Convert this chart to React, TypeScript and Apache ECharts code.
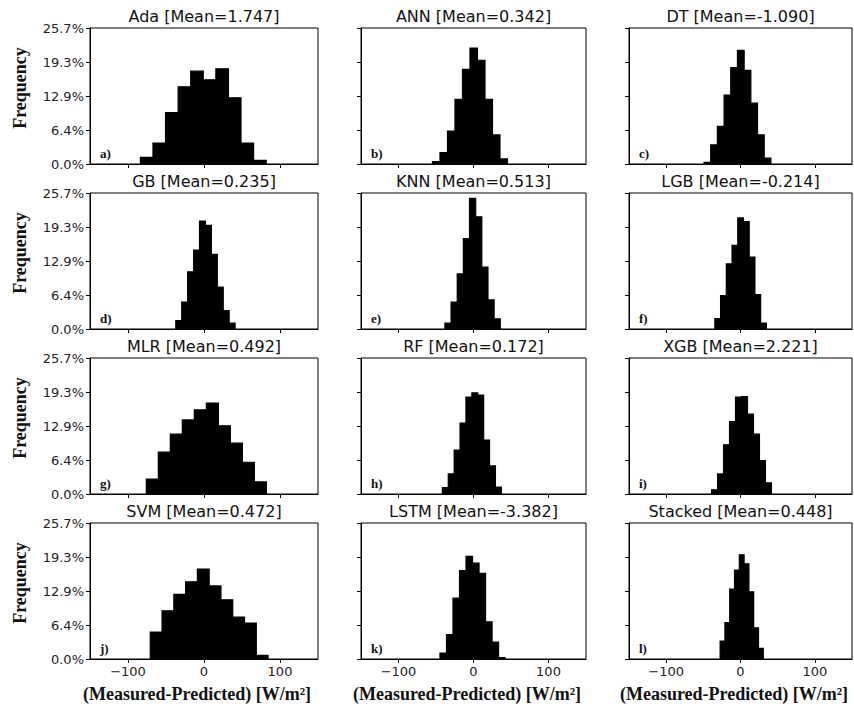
import React, { useEffect, useRef } from "react";
import * as echarts from "echarts";

// ---- data ----
const modelNames = ["Ada", "ANN", "DT", "GB", "KNN", "LGB", "MLR", "RF", "XGB", "SVM", "LSTM", "Stacked"];
const meanLabels = ["1.747", "0.342", "-1.090", "0.235", "0.513", "-0.214", "0.492", "0.172", "2.221", "0.472", "-3.382", "0.448"];
const panelLetters = ["a)", "b)", "c)", "d)", "e)", "f)", "g)", "h)", "i)", "j)", "k)", "l)"];

// first bin left edge and bin width (W/m²) per model
const binStarts = [-83.7, -54.7, -49.1, -37.1, -38.1, -34.5, -75.9, -41.5, -38.9, -70.7, -44.7, -27.4];
const binWidths = [16.55, 10.0, 9.0, 7.8, 8.2, 7.7, 15.8, 7.86, 8.05, 15.5, 8.68, 6.45];

// frequency per bin (%)
const adaFreq = [1.25, 3.95, 9.7, 14.6, 17.55, 15.9, 18.0, 12.5, 3.95, 0.7];
const annFreq = [0.44, 2.15, 6.2, 12.2, 17.9, 21.9, 19.6, 12.2, 5.5, 0.95];
const dtFreq = [0.3, 3.6, 7.1, 13.0, 18.2, 21.5, 17.7, 11.5, 5.5, 1.1];
const gbFreq = [1.6, 5.1, 10.8, 14.9, 20.4, 19.6, 14.1, 7.9, 3.5, 1.1];
const knnFreq = [1.1, 5.1, 10.4, 17.1, 24.7, 21.2, 11.7, 5.5, 1.9];
const lgbFreq = [1.95, 6.3, 12.3, 15.8, 21.0, 20.3, 13.6, 6.5, 1.1];
const mlrFreq = [2.8, 7.9, 11.3, 14.0, 15.9, 17.2, 12.9, 9.6, 6.0, 2.3];
const rfFreq = [1.2, 3.8, 8.3, 13.4, 18.3, 19.1, 18.7, 10.2, 5.3, 1.3];
const xgbFreq = [0.8, 3.8, 9.3, 13.7, 18.3, 18.4, 15.1, 11.3, 6.3, 2.1];
const svmFreq = [5.1, 9.1, 12.2, 14.6, 17.0, 13.8, 11.2, 7.9, 6.8, 0.7];
const lstmFreq = [1.1, 4.6, 11.5, 16.7, 19.4, 18.1, 16.2, 7.0, 3.2, 0.25];
const stackedFreq = [3.4, 6.9, 13.2, 16.8, 19.7, 18.0, 12.7, 5.9, 2.0];

const freqSeries = [adaFreq, annFreq, dtFreq, gbFreq, knnFreq, lgbFreq, mlrFreq, rfFreq, xgbFreq, svmFreq, lstmFreq, stackedFreq];

const yTickLabels = ["0.0%", "6.4%", "12.9%", "19.3%", "25.7%"];
const yMax = 25.7;
const xTickValues = [-100, 0, 100];
const xMin = -150;
const xMax = 150;
const yAxisName = "Frequency";
const xAxisName = "(Measured-Predicted) [W/m²]";

// ---- layout ----
const colLefts = [90, 361, 629];
const colWidths = [228, 225, 223];
const rowTops = [28, 193, 358, 523];
const boxH = 136;
const xNameCenters = [197, 467, 734];

const SANS = "DejaVu Sans";
const SERIF = "Liberation Serif";

export default function App() {
  const ref = useRef<HTMLDivElement>(null);

  useEffect(() => {
    document.body.style.margin = "0";
    if (!ref.current) return;
    const chart = echarts.init(ref.current, undefined, { renderer: "svg" });

    const grids: any[] = [];
    const xAxes: any[] = [];
    const yAxes: any[] = [];
    const series: any[] = [];
    const graphics: any[] = [];

    for (let i = 0; i < 12; i++) {
      const row = Math.floor(i / 3);
      const col = i % 3;
      const left = colLefts[col];
      const width = colWidths[col];
      const top = rowTops[row];
      grids.push({
        left,
        top,
        width,
        height: boxH,
        show: true,
        borderColor: "#000",
        borderWidth: 1,
        backgroundColor: "#fff",
        containLabel: false,
      });
      xAxes.push({
        type: "value",
        gridIndex: i,
        min: xMin,
        max: xMax,
        axisLine: { show: true, onZero: false, lineStyle: { color: "#000", width: 1 } },
        axisTick: { show: true, customValues: xTickValues, length: 4, lineStyle: { color: "#000", width: 1 } },
        axisLabel: {
          show: row === 3,
          customValues: xTickValues,
          fontSize: 13,
          fontFamily: SANS,
          color: "#222",
          margin: 6,
          formatter: (v: number) => (v < 0 ? "\u2212" + Math.abs(v) : String(v)),
        },
        splitLine: { show: false },
      });
      yAxes.push({
        type: "value",
        gridIndex: i,
        min: 0,
        max: yMax,
        interval: yMax / 4,
        axisLine: { show: true, onZero: false, lineStyle: { color: "#000", width: 1 } },
        axisTick: { show: true, length: 4, lineStyle: { color: "#000", width: 1 } },
        axisLabel: {
          show: col === 0,
          showMinLabel: true,
          showMaxLabel: true,
          fontSize: 13,
          fontFamily: SANS,
          color: "#222",
          margin: 6,
          formatter: (v: number) => yTickLabels[Math.round(v / (yMax / 4))] ?? "",
        },
        splitLine: { show: false },
      });
      const vals = freqSeries[i];
      const data = vals.map((h, k) => [binStarts[i] + k * binWidths[i], binStarts[i] + (k + 1) * binWidths[i], h]);
      series.push({
        type: "custom",
        xAxisIndex: i,
        yAxisIndex: i,
        clip: true,
        encode: { x: [0, 1], y: 2 },
        data,
        renderItem: (_p: any, api: any) => {
          const a = api.coord([api.value(0), api.value(2)]);
          const b = api.coord([api.value(1), 0]);
          return {
            type: "rect",
            shape: { x: a[0], y: a[1], width: b[0] - a[0], height: b[1] - a[1] },
            style: { fill: "#000", stroke: "#000", lineWidth: 1.2 },
          };
        },
      });
      // title
      graphics.push({
        type: "text",
        x: left + width / 2,
        y: top - 12,
        style: {
          text: `${modelNames[i]} [Mean=${meanLabels[i]}]`,
          font: `16px "${SANS}"`,
          fill: "#111",
          textAlign: "center",
          textVerticalAlign: "middle",
        },
      });
      // panel letter
      graphics.push({
        type: "text",
        x: left + 10,
        y: top + boxH - 11,
        style: {
          text: panelLetters[i],
          font: `bold 13px "${SERIF}"`,
          fill: "#111",
          textAlign: "left",
          textVerticalAlign: "middle",
        },
      });
      if (col === 0) {
        graphics.push({
          type: "text",
          x: 20,
          y: top + boxH / 2 - 8,
          rotation: Math.PI / 2,
          style: {
            text: yAxisName,
            font: `bold 18px "${SERIF}"`,
            fill: "#111",
            textAlign: "center",
            textVerticalAlign: "middle",
          },
        });
      }
      if (row === 3) {
        graphics.push({
          type: "text",
          x: xNameCenters[col],
          y: 694,
          style: {
            text: xAxisName,
            font: `bold 18px "${SERIF}"`,
            fill: "#111",
            textAlign: "center",
            textVerticalAlign: "middle",
          },
        });
      }
    }

    chart.setOption({
      animation: false,
      backgroundColor: "#fff",
      grid: grids,
      xAxis: xAxes,
      yAxis: yAxes,
      series,
      graphic: { elements: graphics },
    });

    return () => chart.dispose();
  }, []);

  return (
    <div
      ref={ref}
      style={{ position: "absolute", left: 0, top: 0, width: 854, height: 709 }}
    />
  );
}
